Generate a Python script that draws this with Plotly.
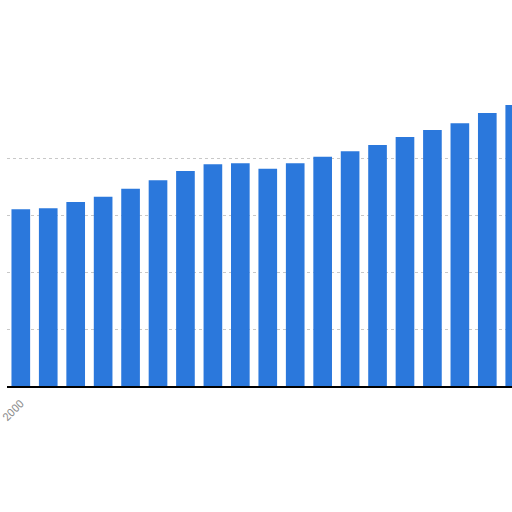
import plotly.graph_objects as go

years = list(range(2000, 2019))
values = [3.10, 3.12, 3.23, 3.32, 3.46, 3.61, 3.77, 3.89, 3.91, 3.81,
          3.91, 4.02, 4.12, 4.23, 4.37, 4.49, 4.61, 4.79, 4.93]
tick_years = [2000]
tick_text = ["2000"]

fig = go.Figure(
    go.Bar(
        x=years,
        y=values,
        width=0.68,
        marker=dict(color="#2b78dc", line=dict(width=0)),
    )
)

fig.update_layout(
    width=512,
    height=512,
    margin=dict(l=0, r=0, t=101, b=126),
    paper_bgcolor="white",
    plot_bgcolor="white",
    showlegend=False,
)
fig.update_xaxes(
    range=[1999.497, 2017.9],
    tickmode="array",
    tickvals=tick_years,
    ticktext=tick_text,
    tickangle=-45,
    ticklabeloverflow="allow",
    ticklabelstandoff=5,
    tickfont=dict(family="Roboto", size=11, color="#8c8c8c"),
    showline=True,
    linecolor="black",
    linewidth=1.5,
    showgrid=False,
    ticks="",
)
fig.update_yaxes(
    range=[0, 5],
    dtick=1,
    showticklabels=False,
    showgrid=True,
    gridcolor="#c8c8c8",
    griddash="dot",
    gridwidth=1,
    zeroline=False,
)

# page body has a default 8px margin; drop it so the chart sits at 0,0
fig.write_html(
    "out.html",
    config={"displayModeBar": False},
    post_script="document.body.style.margin='0';",
)
